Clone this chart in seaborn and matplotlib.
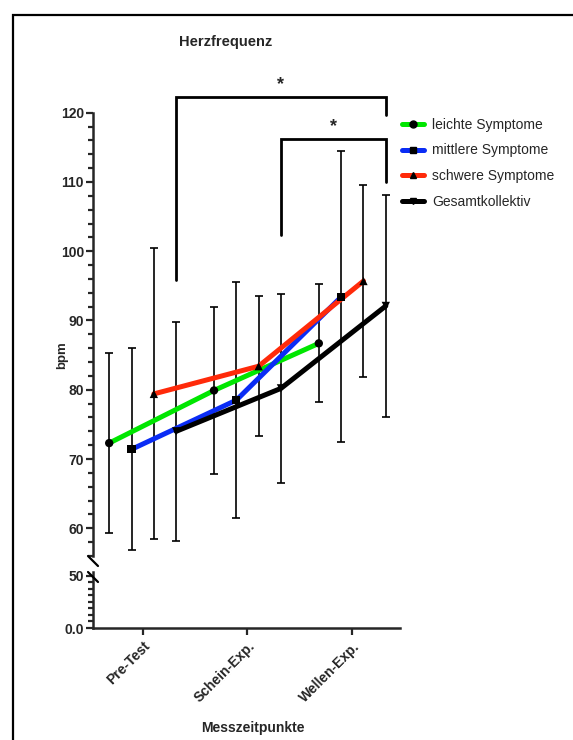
import numpy as np
import pandas as pd
import matplotlib.pyplot as plt
import seaborn as sns
from matplotlib.lines import Line2D
from matplotlib.patches import Rectangle
from matplotlib.ticker import MultipleLocator, FixedLocator

# --- data ---
timepoints = ["Pre-Test", "Schein-Exp.", "Wellen-Exp."]
groups = ["leichte Symptome", "mittlere Symptome", "schwere Symptome", "Gesamtkollektiv"]

mean_leicht = [72.3, 79.9, 86.7]
sd_leicht = [13.0, 12.0, 8.5]
mean_mittel = [71.4, 78.5, 93.4]
sd_mittel = [14.6, 17.0, 21.0]
mean_schwer = [79.4, 83.4, 95.7]
sd_schwer = [21.0, 10.1, 13.9]
mean_gesamt = [74.0, 80.2, 92.1]
sd_gesamt = [15.8, 13.6, 16.0]

# significance brackets: (from timepoint, to timepoint, top, left leg end, right leg end)
brackets = [(0, 2, 122.3, 95.8, 119.7), (1, 2, 116.2, 102.3, 110.0)]

colors = ["#00e600", "#0a2cf5", "#ff2a0a", "#000000"]
markers = ["o", "s", "^", "v"]

# --- long table ---
means = [mean_leicht, mean_mittel, mean_schwer, mean_gesamt]
sds = [sd_leicht, sd_mittel, sd_schwer, sd_gesamt]
offset = 0.213
rows = []
for gi, g in enumerate(groups):
    for ti, t in enumerate(timepoints):
        rows.append({"group": g, "time": t,
                     "x": ti + 1 + (gi - 1.5) * offset,
                     "mean": means[gi][ti], "sd": sds[gi][ti]})
df = pd.DataFrame(rows)

sns.set_style("ticks")
plt.rcParams["font.family"] = ["Liberation Sans", "DejaVu Sans"]

W, H = 573, 740
fig = plt.figure(figsize=(W / 100, H / 100), dpi=100)


def fx(px):
    return px / W


def fy(py):
    return 1 - py / H


ax_top = fig.add_axes([fx(93), fy(556), fx(400) - fx(93), fy(112.7) - fy(556)])
ax_bot = fig.add_axes([fx(93), fy(628), fx(400) - fx(93), fy(572) - fy(628)])

xlim = (0.526, 3.455)

# error bars
for gi, g in enumerate(groups):
    sub = df[df.group == g]
    ax_top.errorbar(sub.x, sub["mean"], yerr=sub.sd, fmt="none", ecolor="black",
                    elinewidth=1.2, capsize=2.9, capthick=1.2, zorder=2)

sns.lineplot(data=df, x="x", y="mean", hue="group", hue_order=groups,
             palette=colors, estimator=None, sort=True, lw=3.6,
             legend=False, ax=ax_top, zorder=3)
sns.scatterplot(data=df, x="x", y="mean", style="group", style_order=groups,
                markers=dict(zip(groups, markers)), color="black", s=36,
                edgecolor="black", linewidth=0, legend=False, ax=ax_top, zorder=4)

# brackets
for a, b, top, lleg, rleg in brackets:
    xa = a + 1 + 1.5 * offset
    xb = b + 1 + 1.5 * offset
    ax_top.plot([xa, xa, xb, xb], [lleg, top, top, rleg], color="black",
                lw=2.0, clip_on=False, solid_joinstyle="miter", zorder=5)
    ax_top.text((xa + xb) / 2, top + 0.6, "*", ha="center", va="bottom",
                fontsize=13, fontweight="bold", clip_on=False)

# upper axis
ax_top.set_xlim(*xlim)
ax_top.set_ylim(56, 120)
ax_top.yaxis.set_major_locator(FixedLocator([60, 70, 80, 90, 100, 110, 120]))
ax_top.yaxis.set_minor_locator(MultipleLocator(2))
ax_top.set_xticks([])
ax_top.set_xlabel("")
ax_top.set_ylabel("")
sns.despine(ax=ax_top, bottom=True)

# lower axis
ax_bot.set_xlim(*xlim)
ax_bot.set_ylim(0, 53.8)
ax_bot.set_yticks([0, 50])
ax_bot.set_yticklabels(["0.0", "50"])
ax_bot.yaxis.set_minor_locator(MultipleLocator(6.25))
ax_bot.set_xticks([1, 2, 3])
ax_bot.set_xticklabels(timepoints, rotation=45, ha="right", rotation_mode="anchor")
sns.despine(ax=ax_bot)

for ax in (ax_top, ax_bot):
    ax.set_facecolor("none")
    for s in ax.spines.values():
        s.set_linewidth(1.8)
    ax.tick_params(which="major", length=5, width=1.6, labelsize=10, pad=1.5)
    ax.tick_params(which="minor", length=3.5, width=1.6)
    for lab in ax.get_xticklabels() + ax.get_yticklabels():
        lab.set_fontweight("bold")
ax_bot.tick_params(axis="x", length=5, pad=3, labelsize=10)

# break marks
for y0 in (556, 572):
    fig.add_artist(Line2D([fx(88), fx(98)], [fy(y0), fy(y0 + 10)],
                          color="black", lw=1.6, transform=fig.transFigure))

# legend
handles = [Line2D([], [], color=c, lw=3.6, marker=m, markersize=5,
                  markerfacecolor="black", markeredgecolor="black")
           for c, m in zip(colors, markers)]
fig.legend(handles, groups, loc="upper left", bbox_to_anchor=(fx(396), fy(112)),
           frameon=False, fontsize=10, handlelength=1.6, handletextpad=0.6,
           labelspacing=0.85, borderaxespad=0)

# texts
fig.text(fx(226), fy(42), "Herzfrequenz", ha="center", va="center",
         fontsize=10.5, fontweight="bold")
fig.text(fx(62), fy(355), "bpm", ha="center", va="center", rotation=90,
         fontsize=9.5, fontweight="bold")
fig.text(fx(253), fy(728), "Messzeitpunkte", ha="center", va="center",
         fontsize=10, fontweight="bold")

# outer frame
fig.add_artist(Rectangle((fx(12.5), fy(760)), 1.2, fy(15) - fy(760), fill=False,
                         edgecolor="black", lw=1.6, transform=fig.transFigure))

fig.savefig("out.png", dpi=100)
